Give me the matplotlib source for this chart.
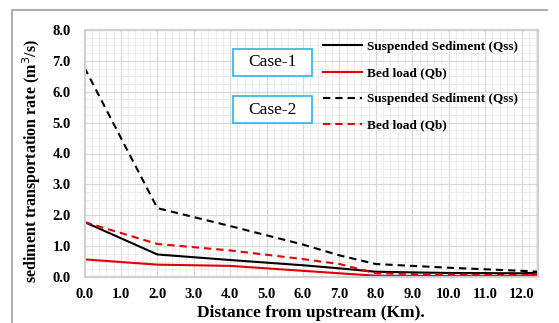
import matplotlib.pyplot as plt
from matplotlib.ticker import MultipleLocator
from matplotlib.lines import Line2D

dist = [0.0, 2.0, 4.0, 6.0, 7.0, 8.0, 10.0, 12.0, 12.45]
c1_qss = [1.78, 0.73, 0.55, 0.38, 0.28, 0.17, 0.13, 0.12, 0.14]
c1_qb = [0.57, 0.40, 0.36, 0.20, 0.12, 0.04, 0.03, 0.03, 0.08]
c2_qss = [6.78, 2.23, 1.65, 1.05, 0.70, 0.42, 0.30, 0.20, 0.17]
c2_qb = [1.78, 1.07, 0.86, 0.58, 0.42, 0.12, 0.08, 0.06, 0.08]
labels = ['Suspended Sediment (Qss)', 'Bed load (Qb)',
          'Suspended Sediment (Qss)', 'Bed load (Qb)']

serif = 'Liberation Serif'
red = '#e00000'
dash = (3.5, 2.4)

fig = plt.figure(figsize=(5.59, 3.23), dpi=100)
ax = fig.add_axes([84.5/559, 46/323, 453.5/559, 247/323])

l1, = ax.plot(dist, c1_qss, color='black', lw=1.5)
l2, = ax.plot(dist, c1_qb, color=red, lw=1.5)
l3, = ax.plot(dist, c2_qss, color='black', lw=1.5, dashes=dash)
l4, = ax.plot(dist, c2_qb, color=red, lw=1.5, dashes=dash)

ax.set_xlim(0, 12.45)
ax.set_ylim(0, 8)
ax.xaxis.set_major_locator(MultipleLocator(1))
ax.xaxis.set_minor_locator(MultipleLocator(0.2))
ax.yaxis.set_major_locator(MultipleLocator(1))
ax.yaxis.set_minor_locator(MultipleLocator(0.25))
ax.xaxis.set_major_formatter(lambda v, p: '%.1f' % v)
ax.yaxis.set_major_formatter(lambda v, p: '%.1f' % v)
ax.grid(which='major', color='#d9d9d9', lw=0.9)
ax.grid(which='minor', color='#ededed', lw=0.7)
ax.set_axisbelow(True)
ax.tick_params(which='both', length=0)
ax.tick_params(axis='y', pad=10)
ax.tick_params(axis='x', pad=8)
for t in ax.get_xticklabels() + ax.get_yticklabels():
    t.set_family(serif)
    t.set_weight('bold')
    t.set_size(10.5)
for s in ax.spines.values():
    s.set_color('#d0d0d0')
    s.set_linewidth(1.5)

ax.set_xlabel('Distance from upstream (Km).', family=serif, weight='bold',
              size=12.5, labelpad=3)
ax.set_ylabel('sediment transportation rate (m$^{3}$/s)', family=serif,
              weight='bold', size=11.5)
ax.yaxis.set_label_coords(-0.092, 0.47)

# case boxes
for yb, txt in [(0.814, 'Case-1'), (0.623, 'Case-2')]:
    ax.add_patch(plt.Rectangle((0.327, yb), 0.174, 0.109, transform=ax.transAxes,
                               fc='white', ec='#29b6ea', lw=1.2, zorder=5))
    ax.text(0.414, yb + 0.0545, txt, transform=ax.transAxes, ha='center',
            va='center', family=serif, size=12.5, zorder=6)

leg = ax.legend([l1, l2, l3, l4], labels, loc='upper left',
                bbox_to_anchor=(0.525, 0.956), frameon=False, borderpad=0,
                borderaxespad=0, handlelength=2.95, handletextpad=0.4,
                labelspacing=1.05, prop={'family': serif, 'weight': 'bold', 'size': 9.5})

# outer frame
fig.add_artist(Line2D([547/559, 12/559, 12/559], [1 - 10/323, 1 - 10/323, 0],
                      color='#a6a6a6', lw=1.3, transform=fig.transFigure))

fig.savefig('out.png', dpi=100)
